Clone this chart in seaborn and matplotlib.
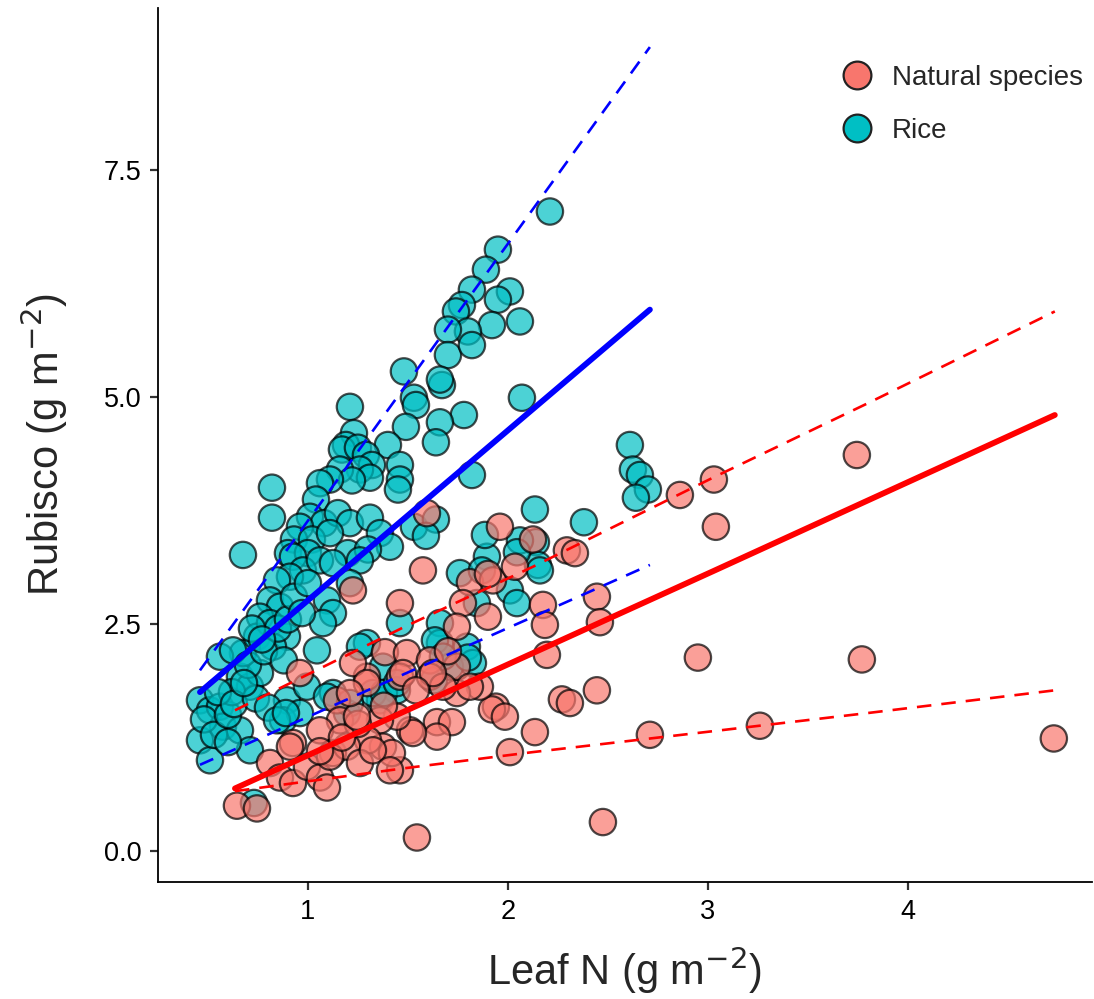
import numpy as np
import pandas as pd
import matplotlib
matplotlib.use("Agg")
import matplotlib.pyplot as plt
import seaborn as sns
from matplotlib.lines import Line2D

# ---------------- data ----------------
rice_x = [2.21, 1.95, 1.89, 2.01, 1.95, 1.82, 1.77, 1.74, 2.06, 1.92, 1.80, 1.70, 1.70, 1.82,
          1.67, 1.66, 1.48, 1.53, 1.54, 2.07, 1.78, 1.66, 1.21, 1.64, 1.49, 1.82, 1.40, 1.23,
          1.19, 1.17, 1.25, 1.29, 1.32, 1.26, 1.16, 1.31, 1.22, 1.46, 1.46, 1.45, 1.11, 1.06,
          1.04, 1.01, 1.08, 1.15, 1.21, 1.31, 0.96, 0.93, 1.02, 1.11, 1.36, 1.41, 1.53, 1.64,
          0.82, 0.82, 0.675, 0.90, 1.00, 1.20, 1.30, 0.925, 0.975, 0.91, 0.845, 0.81, 0.86, 0.76,
          1.06, 1.125, 1.095, 1.125, 1.26, 1.21, 1.59,
          2.61, 2.625, 2.66, 2.70, 2.64, 2.38, 2.135, 2.14, 2.15, 2.06, 2.16, 2.045, 1.895, 1.76,
          2.01, 2.045, 1.845, 1.66, 1.46, 1.66, 1.795, 1.825, 1.71, 1.295, 1.375, 1.445, 1.36,
          1.87, 1.885, 1.80, 1.635,
          0.46, 0.51, 0.56, 0.46, 0.51, 0.575, 0.66, 0.71, 0.66, 0.71, 0.76, 0.675, 0.745, 0.81,
          0.895, 0.825, 1.045, 1.075, 0.895, 0.875, 0.96, 0.995, 1.125, 1.195, 1.26, 1.325,
          0.56, 0.625, 0.48, 0.53, 0.60, 0.62, 0.70, 0.78, 0.85, 0.90, 0.93, 0.72, 0.88, 0.97,
          1.00, 0.55, 0.63, 0.74, 0.80, 0.60, 0.68, 0.77, 0.73, 0.845, 0.89, 1.095, 1.21, 1.38,
          1.445, 1.63, 1.675]
rice_y = [7.04, 6.62, 6.40, 6.16, 6.07, 6.18, 6.01, 5.94, 5.83, 5.79, 5.72, 5.74, 5.46, 5.57,
          5.13, 5.19, 5.28, 4.99, 4.91, 4.99, 4.80, 4.72, 4.89, 4.50, 4.67, 4.14, 4.47, 4.60,
          4.47, 4.42, 4.44, 4.36, 4.25, 4.20, 4.20, 4.11, 4.08, 4.25, 4.09, 3.98, 4.09, 4.05,
          3.87, 3.68, 3.61, 3.72, 3.61, 3.67, 3.57, 3.43, 3.43, 3.50, 3.50, 3.35, 3.57, 3.65,
          4.00, 3.67, 3.26, 3.28, 3.28, 3.28, 3.32, 3.24, 3.09, 3.02, 2.98, 2.76, 2.69, 2.58,
          3.20, 3.17, 2.76, 2.62, 3.20, 2.95, 3.47,
          4.47, 4.20, 4.14, 3.98, 3.89, 3.62, 3.76, 3.40, 3.15, 3.42, 3.09, 3.29, 3.24, 3.06,
          2.87, 2.73, 2.73, 2.51, 2.51, 2.29, 2.25, 2.07, 2.03, 2.29, 2.03, 1.77, 1.66,
          3.09, 3.48, 2.13, 2.32,
          1.66, 1.55, 1.59, 1.22, 1.00, 1.37, 1.33, 1.11, 1.92, 1.81, 1.96, 2.18, 2.36, 2.51,
          2.36, 2.25, 2.21, 2.51, 1.66, 1.44, 1.52, 1.81, 1.74, 1.52, 2.25, 1.74,
          2.14, 2.21, 1.45, 1.28, 1.50, 1.75, 2.05, 2.20, 2.45, 2.55, 2.80, 2.45, 2.10, 2.62,
          2.95, 1.75, 1.62, 1.68, 1.58, 1.20, 1.85, 2.33, 0.53, 1.44, 1.52, 1.70, 1.63, 1.74,
          1.85, 1.88, 2.14]

nat_x = [3.745, 2.86, 3.03, 3.04, 2.95, 3.77, 3.26, 4.73, 2.71, 2.195, 2.445, 2.27, 2.31, 1.94,
         1.92, 1.985, 2.135, 2.01, 1.545, 2.475, 1.86, 1.745, 1.645, 1.72, 1.645, 1.51, 1.46,
         1.575, 1.46, 1.81, 1.925, 1.90, 2.035, 2.295, 2.335, 2.175, 2.185, 1.775, 1.90, 1.745,
         1.385, 1.495, 1.61, 1.745, 1.46, 1.61, 1.295, 1.675, 1.81, 1.525, 1.445, 1.36, 1.375,
         1.30, 1.42, 0.96, 1.225, 1.295, 1.145, 1.16, 1.06, 0.925, 0.81, 0.86, 0.925, 0.995,
         1.06, 1.125, 1.195, 1.26, 1.325, 1.095, 0.645, 0.745, 1.595, 1.225, 1.96, 2.125,
         2.445, 2.46, 0.91, 1.11, 1.41, 1.25, 1.38, 1.06, 1.17, 1.245, 1.475, 1.625, 1.21,
         1.54, 1.70]
nat_y = [4.36, 3.92, 4.09, 3.57, 2.13, 2.11, 1.38, 1.24, 1.28, 2.16, 1.77, 1.67, 1.63, 1.59,
         1.56, 1.48, 1.31, 1.09, 0.15, 0.32, 1.81, 1.74, 1.42, 1.42, 1.26, 1.33, 0.89,
         3.09, 2.73, 2.96, 2.98, 3.05, 3.13, 3.31, 3.28, 2.71, 2.49, 2.73, 2.58, 2.47,
         2.19, 2.18, 2.10, 2.03, 1.92, 1.92, 1.92, 1.81, 1.81, 1.30, 1.48, 1.44, 1.15,
         1.22, 1.08, 1.96, 2.07, 1.85, 1.66, 1.44, 1.33, 1.19, 0.97, 0.81, 0.75, 0.93,
         0.81, 1.08, 1.15, 0.97, 1.11, 0.70, 0.50, 0.47, 3.72, 2.87, 3.57, 3.43,
         2.80, 2.52, 1.15, 1.04, 0.89, 1.40, 1.60, 1.10, 1.25, 1.48, 1.96, 1.96, 1.74,
         1.77, 2.20]

# fitted lines
rice_fit_x = [0.46, 2.71]
rice_fit_mid = [1.75, 5.96]
rice_fit_hi = [1.99, 8.85]
rice_fit_lo = [0.95, 3.15]

nat_fit_x = [0.635, 1.475, 2.125, 3.025, 3.80, 4.735]
nat_fit_mid = [0.69, 1.53, 2.18, 3.08, 3.86, 4.80]
nat_fit_hi = [1.55, 2.46, 3.13, 4.11, 4.93, 5.94]
nat_fit_lo = [0.66, 0.91, 1.09, 1.32, 1.52, 1.77]

groups = ["Natural species", "Rice"]
colors = {"Natural species": "#F8766D", "Rice": "#00BFC4"}

df = pd.DataFrame({
    "N": rice_x + nat_x,
    "Rub": rice_y + nat_y,
    "group": ["Rice"] * len(rice_x) + ["Natural species"] * len(nat_x),
})

# ---------------- plot ----------------
sns.set_style("white")
plt.rcParams["font.family"] = ["Liberation Sans", "DejaVu Sans"]
fig = plt.figure(figsize=(10.94, 9.99), dpi=100)
ax = fig.add_axes([0.1444, 0.1171, 0.8536, 0.8749])

sns.scatterplot(data=df, x="N", y="Rub", hue="group", hue_order=["Rice", "Natural species"],
                palette=colors, s=360, alpha=0.7, edgecolor="black", linewidth=1.6,
                legend=False, ax=ax, zorder=2)

lw_solid = 4.2
lw_dash = 1.9
dash = (5.5, 3.8)
sns.lineplot(x=rice_fit_x, y=rice_fit_mid, color="#0000FF", lw=lw_solid, ax=ax, zorder=3)
sns.lineplot(x=rice_fit_x, y=rice_fit_hi, color="#0000FF", lw=lw_dash, ax=ax, zorder=3).lines[-1].set_dashes(dash)
sns.lineplot(x=rice_fit_x, y=rice_fit_lo, color="#0000FF", lw=lw_dash, ax=ax, zorder=3).lines[-1].set_dashes(dash)
sns.lineplot(x=nat_fit_x, y=nat_fit_mid, color="#FF0000", lw=lw_solid, ax=ax, zorder=3)
sns.lineplot(x=nat_fit_x, y=nat_fit_hi, color="#FF0000", lw=lw_dash, ax=ax, zorder=3).lines[-1].set_dashes(dash)
sns.lineplot(x=nat_fit_x, y=nat_fit_lo, color="#FF0000", lw=lw_dash, ax=ax, zorder=3).lines[-1].set_dashes(dash)

ax.set_xlim(0.25, 4.92)
ax.set_ylim(-0.34, 9.28)
ax.set_xticks([1, 2, 3, 4])
ax.set_xticklabels(["1", "2", "3", "4"])
ax.set_yticks([0.0, 2.5, 5.0, 7.5])
ax.set_yticklabels(["0.0", "2.5", "5.0", "7.5"])

for side in ["top", "right"]:
    ax.spines[side].set_visible(False)
for side in ["left", "bottom"]:
    ax.spines[side].set_linewidth(1.3)
    ax.spines[side].set_color("black")

ax.tick_params(axis="both", which="major", length=6, width=1.6, color="#333333",
               labelsize=19.5, labelcolor="black", pad=6, direction="out")
ax.tick_params(left=True, bottom=True)

ax.set_xlabel("Leaf N (g m$^{-2}$)", fontsize=30, labelpad=14)
ax.set_ylabel("Rubisco (g m$^{-2}$)", fontsize=30, labelpad=24)

handles = [Line2D([0], [0], marker="o", linestyle="", markersize=20,
                  markerfacecolor=colors[g], markeredgecolor="#222222", markeredgewidth=1.6)
           for g in groups]
leg = ax.legend(handles, groups, loc="upper right", bbox_to_anchor=(1.011, 0.957), frameon=False,
                fontsize=20, handletextpad=0.25, labelspacing=0.97, borderaxespad=0.3)

fig.savefig("out.png", dpi=100)
